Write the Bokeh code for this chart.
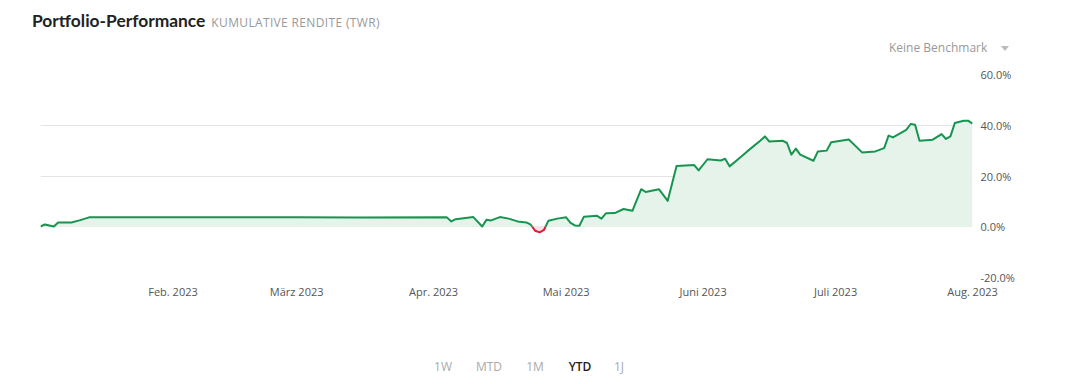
import numpy as np
from bokeh.plotting import figure
from bokeh.layouts import column
from bokeh.models import FixedTicker, Range1d, Div
from bokeh.embed import file_html
from bokeh.resources import INLINE

# ---- data ----
dates = [
    "2023-01-02", "2023-01-03", "2023-01-05", "2023-01-06", "2023-01-09", "2023-01-11",
    "2023-01-13", "2023-02-01", "2023-02-15", "2023-03-01", "2023-03-15", "2023-04-04",
    "2023-04-05", "2023-04-06", "2023-04-10", "2023-04-12", "2023-04-13", "2023-04-14",
    "2023-04-16", "2023-04-18", "2023-04-20", "2023-04-22", "2023-04-23", "2023-04-24",
    "2023-04-25", "2023-04-26", "2023-04-27", "2023-04-29", "2023-05-01", "2023-05-02",
    "2023-05-03", "2023-05-04", "2023-05-05", "2023-05-08", "2023-05-09", "2023-05-10",
    "2023-05-12", "2023-05-14", "2023-05-16", "2023-05-18", "2023-05-19", "2023-05-22",
    "2023-05-24", "2023-05-26", "2023-05-30", "2023-05-31", "2023-06-02", "2023-06-05",
    "2023-06-06", "2023-06-07", "2023-06-09", "2023-06-11", "2023-06-14", "2023-06-15",
    "2023-06-16", "2023-06-19", "2023-06-20", "2023-06-21", "2023-06-22", "2023-06-23",
    "2023-06-26", "2023-06-27", "2023-06-29", "2023-06-30", "2023-07-04", "2023-07-07",
    "2023-07-10", "2023-07-12", "2023-07-13", "2023-07-14", "2023-07-17", "2023-07-18",
    "2023-07-19", "2023-07-20", "2023-07-23", "2023-07-25", "2023-07-26", "2023-07-27",
    "2023-07-28", "2023-07-30", "2023-07-31", "2023-08-01",
]
returns = [
    0.1, 0.9, 0.1, 1.7, 1.7, 2.6,
    3.7, 3.7, 3.7, 3.7, 3.6, 3.7,
    2.1, 3.0, 3.8, 0.1, 2.8, 2.5,
    3.8, 3.2, 2.1, 1.7, 0.8, -1.6,
    -2.2, -1.2, 2.4, 3.2, 3.7, 1.5,
    0.5, 0.4, 3.9, 4.3, 3.2, 5.3,
    5.4, 7.0, 6.3, 14.8, 13.7, 14.8,
    10.2, 23.9, 24.3, 22.2, 26.6, 26.1,
    26.8, 23.8, 26.7, 29.7, 34.0, 35.6,
    33.6, 33.9, 33.0, 28.4, 30.8, 28.4,
    26.0, 29.7, 30.0, 33.3, 34.4, 29.3,
    29.7, 31.0, 35.9, 35.2, 38.2, 40.5,
    40.2, 33.9, 34.3, 36.5, 34.6, 35.6,
    40.9, 41.8, 41.8, 40.6,
]
month_ticks = ["2023-02-01", "2023-03-01", "2023-04-01", "2023-05-01",
               "2023-06-01", "2023-07-01", "2023-08-01"]
month_labels = ["Feb. 2023", "März 2023", "Apr. 2023", "Mai 2023",
                "Juni 2023", "Juli 2023", "Aug. 2023"]
y_ticks = [-20, 0, 20, 40, 60]
y_labels = ["-20.0%", "0.0%", "20.0%", "40.0%", "60.0%"]
periods = ["1W", "MTD", "1M", "YTD", "1J"]
active_period = "YTD"

title_text = "Portfolio-Performance"
subtitle_text = "KUMULATIVE RENDITE (TWR)"
benchmark_text = "Keine Benchmark"

# ---- styles ----
GREEN = "#17944f"
GREEN_FILL = "#e5f3eb"
RED = "#e0193a"
RED_FILL = "#fde1e5"
FONT = "Open Sans"
W = 1058
HEAD_H, MAIN_H, FOOT_H = 60, 260, 56


def to_ms(seq):
    return np.array(seq, dtype="datetime64[ms]").astype("int64").astype(float)


# ---- header ----
head_html = (
    f'<div style="position:relative;width:{W}px;height:{HEAD_H}px;">'
    '<div style="position:absolute;left:32px;top:11px;white-space:nowrap;'
    'font-family:Lato;font-size:17.4px;line-height:20px;">'
    f'<span style="font-weight:bold;color:#222;">{title_text}</span>'
    f'<span style="margin-left:6px;font-family:\'Open Sans\';font-size:12px;'
    f'letter-spacing:0.35px;color:#999;">{subtitle_text}</span>'
    '</div>'
    '<div style="position:absolute;left:889px;top:42px;white-space:nowrap;'
    f'font-family:\'Open Sans\';font-size:12px;line-height:12px;color:#999;">{benchmark_text}</div>'
    '<div style="position:absolute;left:1001px;top:46px;width:0;height:0;'
    'border-left:4px solid transparent;border-right:4px solid transparent;'
    'border-top:5px solid #bbb;"></div>'
    '</div>'
)
head = Div(text=head_html, width=W, height=HEAD_H, margin=0)

# ---- main chart ----
x = to_ms(dates)
y = np.array(returns, dtype=float)

xs, ys = [x[0]], [y[0]]
for i in range(1, len(x)):
    if (y[i - 1] < 0) != (y[i] < 0):
        t = y[i - 1] / (y[i - 1] - y[i])
        xs.append(x[i - 1] + t * (x[i] - x[i - 1]))
        ys.append(0.0)
    xs.append(x[i])
    ys.append(y[i])
xs = np.array(xs)
ys = np.array(ys)
pos_line = np.where(ys >= 0, ys, np.nan)
neg_line = np.where(ys <= 0, ys, np.nan)

p = figure(
    width=W, height=MAIN_H, output_backend="svg", toolbar_location=None,
    x_axis_type="datetime", y_axis_location="right",
    x_range=Range1d(x[0], x[-1]), y_range=Range1d(y_ticks[0], y_ticks[-1]),
    min_border_left=40, min_border_right=86, min_border_top=14, min_border_bottom=43,
    margin=0,
)
p.outline_line_color = None
p.background_fill_color = "white"
p.border_fill_color = "white"

p.varea(x=xs, y1=0, y2=np.maximum(ys, 0), fill_color=GREEN_FILL)
p.varea(x=xs, y1=np.minimum(ys, 0), y2=0, fill_color=RED_FILL)
p.line(xs, pos_line, line_color=GREEN, line_width=2, line_join="round")
p.line(xs, neg_line, line_color=RED, line_width=2, line_join="round")

p.xgrid.grid_line_color = None
p.ygrid.ticker = FixedTicker(ticks=y_ticks)
p.ygrid.grid_line_color = "#e4e4e4"
p.ygrid.grid_line_width = 1

xt = to_ms(month_ticks)
p.xaxis.ticker = FixedTicker(ticks=list(xt))
p.xaxis.major_label_overrides = {float(v): lab for v, lab in zip(xt, month_labels)}
p.xaxis.major_label_standoff = 6

p.yaxis.ticker = FixedTicker(ticks=y_ticks)
p.yaxis.major_label_overrides = {v: lab for v, lab in zip(y_ticks, y_labels)}
p.yaxis.major_label_standoff = 8

for ax in (p.xaxis, p.yaxis):
    ax.axis_line_color = None
    ax.major_tick_line_color = None
    ax.minor_tick_line_color = None
    ax.major_tick_out = 0
    ax.major_tick_in = 0
    ax.minor_tick_out = 0
    ax.minor_tick_in = 0
    ax.major_label_text_color = "#555555"
    ax.major_label_text_font = FONT
    ax.major_label_text_font_size = "11px"

# ---- footer (period selector) ----
period_x = [443, 489, 535, 580, 619]
spans = []
for px, lab in zip(period_x, periods):
    act = lab == active_period
    style = ("font-weight:600;color:#222;" if act else "color:#aaaaaa;")
    spans.append(
        f'<div style="position:absolute;left:{px - 25}px;top:41px;width:50px;'
        f'text-align:center;font-family:\'Open Sans\';font-size:12px;line-height:12px;{style}">'
        f'{lab}</div>'
    )
foot_html = (f'<div style="position:relative;width:{W}px;height:{FOOT_H}px;">'
             + "".join(spans) + '</div>')
foot = Div(text=foot_html, width=W, height=FOOT_H, margin=0)

layout = column(head, p, foot, spacing=0)
open("out.html", "w").write(file_html(layout, INLINE))
